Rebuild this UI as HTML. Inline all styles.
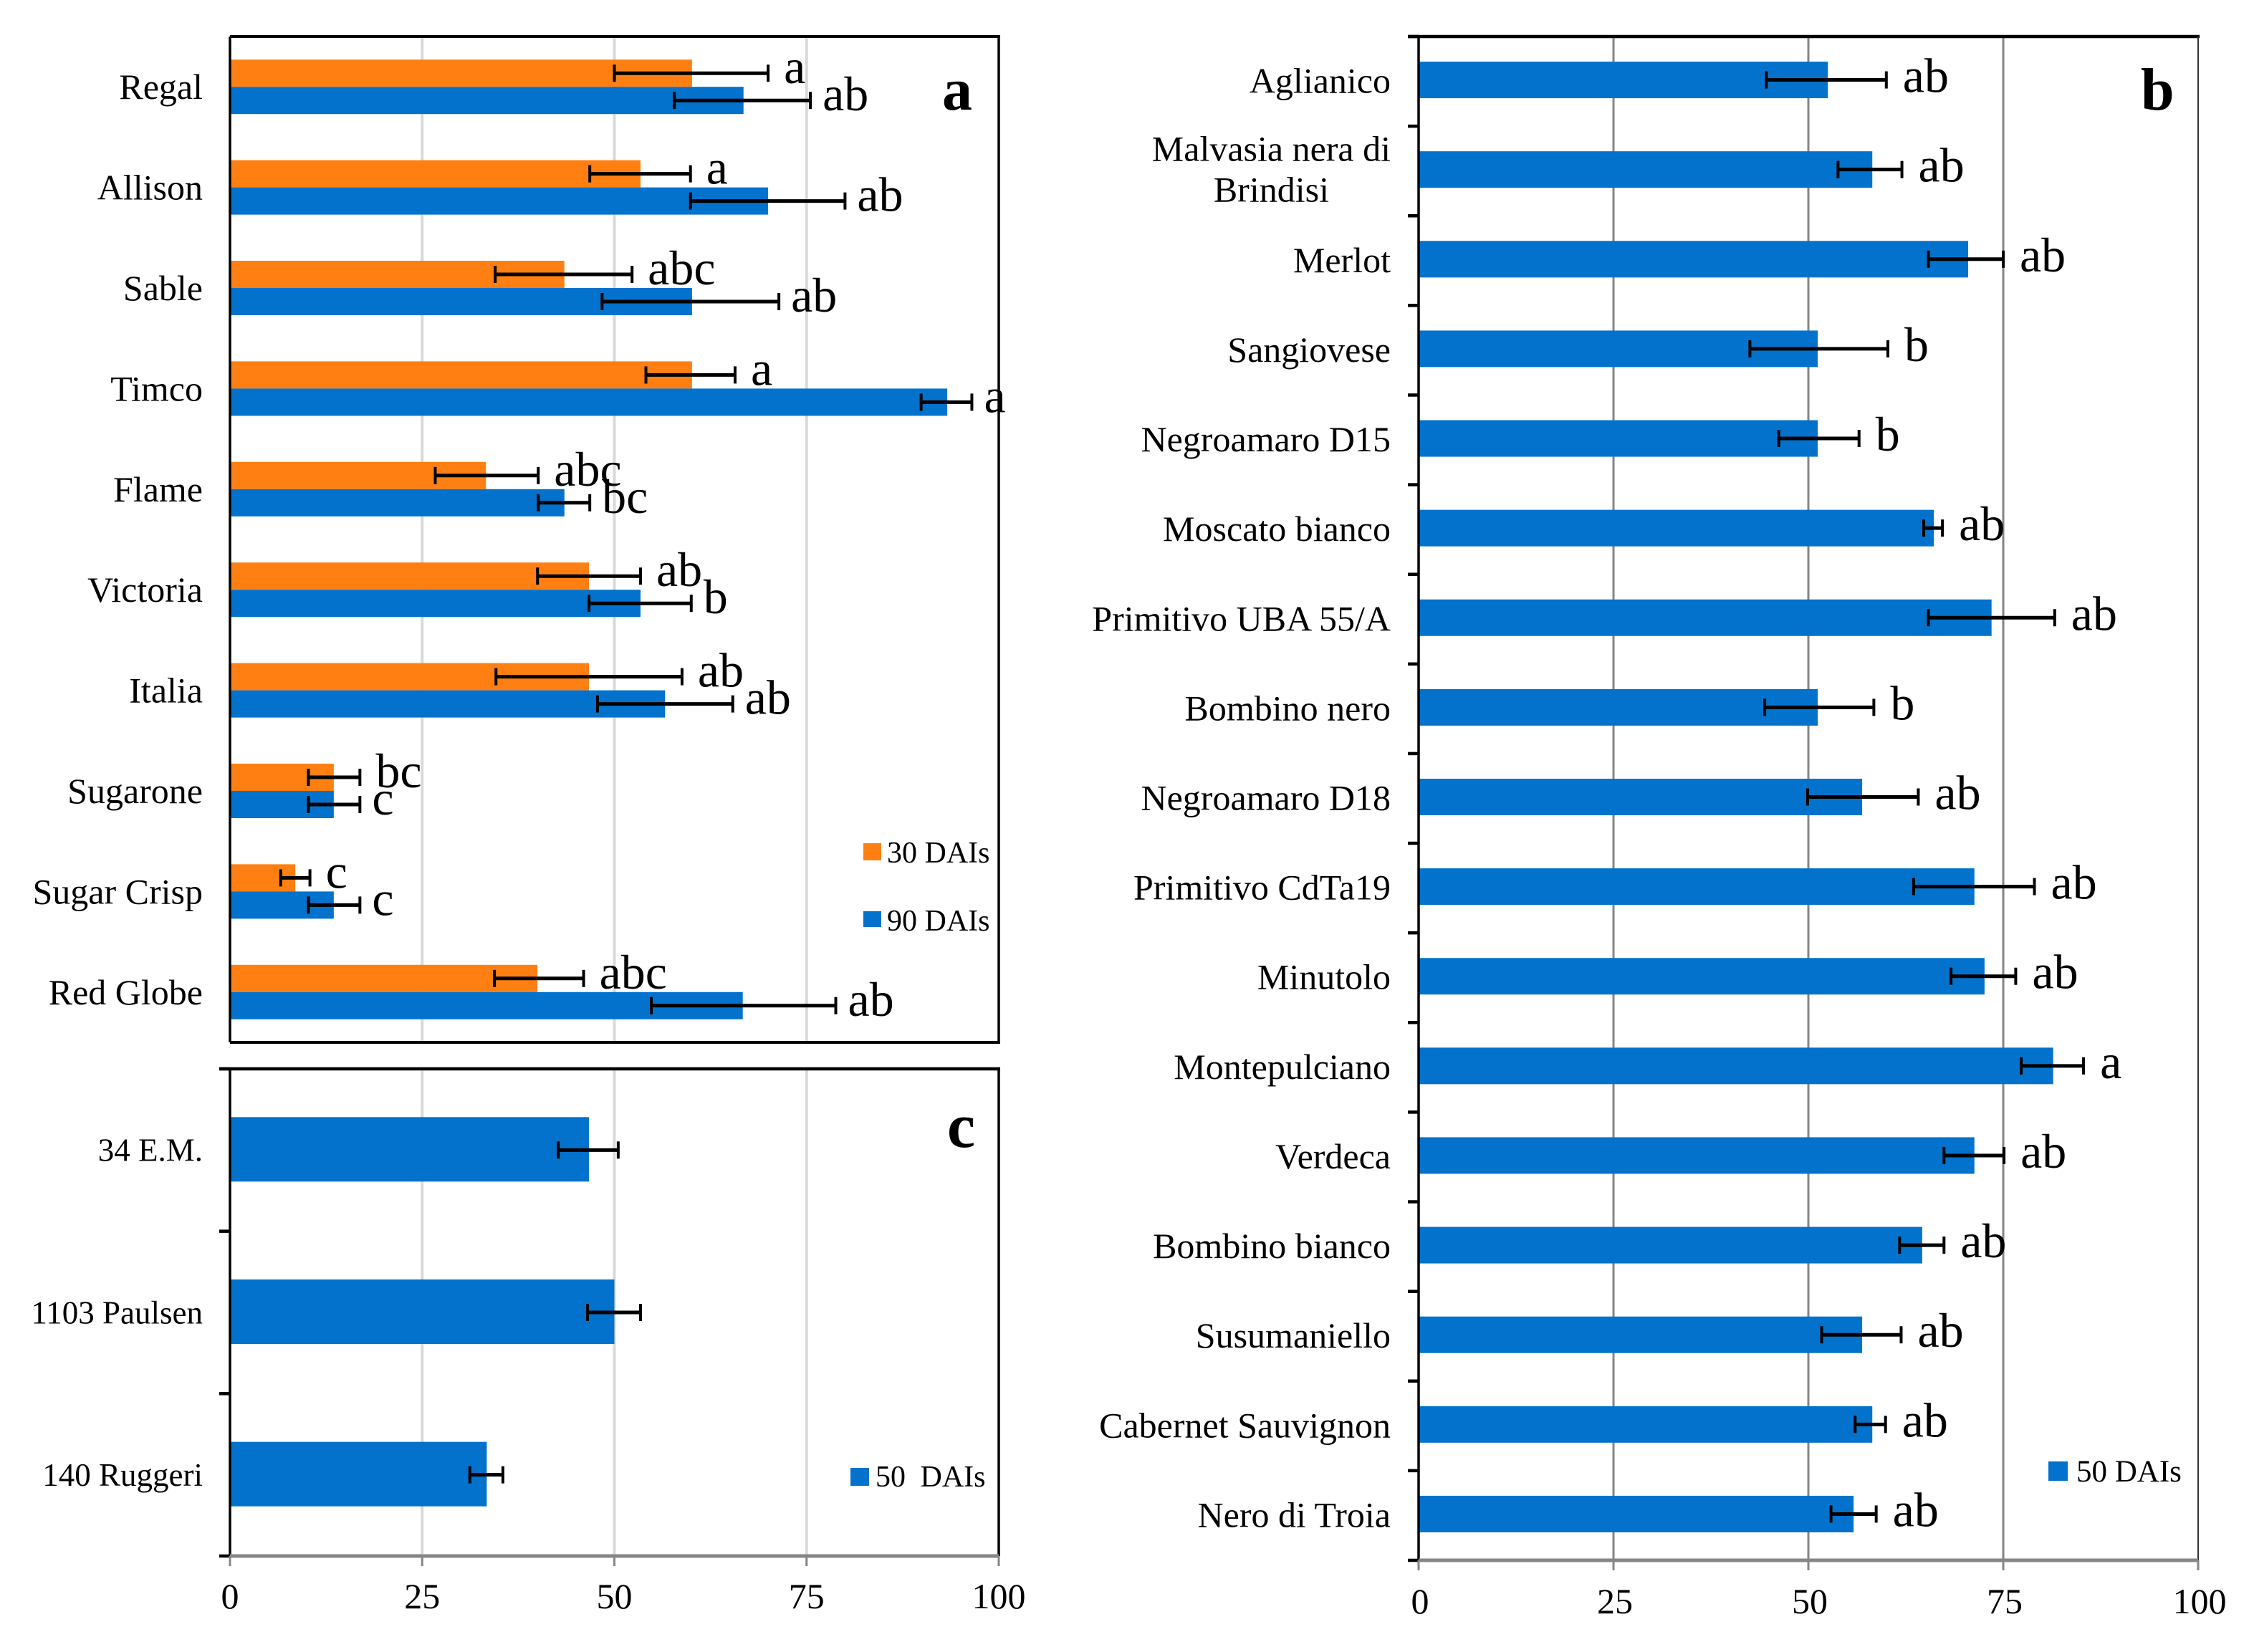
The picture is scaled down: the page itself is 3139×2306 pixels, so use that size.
<!DOCTYPE html>
<html lang="en">
<head>
<meta charset="utf-8">
<title>Grapevine DAIs bar charts</title>
<style>
html,body{margin:0;padding:0;background:#fff;}
svg{display:block;font-family:"Liberation Serif","Times New Roman",serif;}
</style>
</head>
<body>
<svg id="figure" xmlns="http://www.w3.org/2000/svg" width="3139" height="2306" viewBox="0 0 3139 2306">
  <rect width="3139" height="2306" fill="#ffffff"/>
  <g id="panel-a"></g>
  <g id="panel-c"></g>
  <g id="panel-b"></g>
</svg>
<script>
// ---------- shared ----------
const xTickLabels = [0, 25, 50, 75, 100];

// ---------- panel a ----------
const categoriesA = ["Regal","Allison","Sable","Timco","Flame","Victoria","Italia","Sugarone","Sugar Crisp","Red Globe"];
const values30A = [60.1,53.4,43.5,60.1,33.3,46.7,46.7,13.5,8.5,40];
const errLow30A = [50,46.8,34.5,54.1,26.7,40,34.6,10.2,6.6,34.4];
const errHigh30A = [70,59.9,52.3,65.7,40.1,53.4,58.8,16.9,10.4,46];
const letters30A = ["a","a","abc","a","abc","ab","ab","bc","c","abc"];
const values90A = [66.8,70,60.1,93.3,43.5,53.4,56.6,13.5,13.5,66.7];
const errLow90A = [57.8,59.9,48.4,89.9,40.1,46.7,47.8,10.2,10.2,54.8];
const errHigh90A = [75.5,80,71.4,96.5,46.8,60,65.4,16.9,16.9,78.8];
const letters90A = ["ab","ab","ab","a","bc","b","ab","c","c","ab"];

// ---------- panel b ----------
const categoriesB = ["Aglianico","Malvasia nera di|Brindisi","Merlot","Sangiovese","Negroamaro D15","Moscato bianco","Primitivo UBA  55/A","Bombino nero","Negroamaro D18","Primitivo CdTa19","Minutolo","Montepulciano","Verdeca","Bombino bianco","Susumaniello","Cabernet Sauvignon","Nero di Troia"];
const values50B = [52.5,58.2,70.5,51.2,51.2,66.1,73.5,51.2,56.9,71.3,72.6,81.4,71.3,64.6,56.9,58.2,55.8];
const errLow50B = [44.6,53.8,65.4,42.5,46.2,64.8,65.4,44.4,49.9,63.5,68.3,77.3,67.4,61.7,51.7,56,52.9];
const errHigh50B = [60,62,75,60.2,56.5,67.2,81.6,58.4,64.1,79,76.6,85.3,75.1,67.4,61.9,59.9,58.7];
const letters50B = ["ab","ab","ab","b","b","ab","ab","b","ab","ab","ab","a","ab","ab","ab","ab","ab"];

// ---------- panel c ----------
const categoriesC = ["34 E.M.","1103 Paulsen","140 Ruggeri"];
const values50C = [46.7,50,33.4];
const errLow50C = [42.7,46.5,31.2];
const errHigh50C = [50.5,53.4,35.5];

const ORANGE = "#ff7f12";
const BLUE = "#0272cd";
const NS = "http://www.w3.org/2000/svg";

function make(parent, tag, attrs, text) {
  const el = document.createElementNS(NS, tag);
  for (const k in attrs) el.setAttribute(k, attrs[k]);
  if (text !== undefined) el.textContent = text;
  parent.appendChild(el);
  return el;
}
function slug(s) {
  return String(s).toLowerCase().replace(/[^a-z0-9]+/g, '-').replace(/^-|-$/g, '');
}
function linearX(x0, x1) {
  return v => x0 + (v / 100) * (x1 - x0);
}
function bandY(y0, y1, n) {
  const step = (y1 - y0) / n;
  return i => y0 + step * (i + 0.5);
}

function drawGrid(g, xs, top, bottom, color, width) {
  [25, 50, 75].forEach(v => {
    const el = make(g, 'line', {x1: xs(v), x2: xs(v), y1: top, y2: bottom, stroke: color, 'stroke-width': width});
    
    
  });
}
function drawBar(g, xs, yTop, h, value, color, name) {
  const el = make(g, 'rect', {x: xs(0), y: yTop, width: xs(value) - xs(0), height: h, fill: color});
  
  
}
function drawErr(g, xs, y, low, high, name) {
  const line = make(g, 'line', {x1: xs(low), x2: xs(high), y1: y, y2: y, stroke: '#000', 'stroke-width': 5});
  
  
  [low, high].forEach(v => {
    const cap = make(g, 'line', {x1: xs(v), x2: xs(v), y1: y - 12, y2: y + 12, stroke: '#000', 'stroke-width': 4});
    
    
  });
}
function drawLetter(g, x, y, letter, name) {
  const el = make(g, 'text', {x: x, y: y, 'font-size': 68, fill: '#000'}, letter);
  
  
}
function drawCategory(g, right, y, label, size) {
  const parts = label.split('|');
  if (parts.length === 1) {
    const el = make(g, 'text', {x: right, y: y + size * 0.32 + 1, 'font-size': size, 'text-anchor': 'end', 'xml:space': 'preserve', fill: '#000'}, label);
    
    
  } else {
    const first = make(g, 'text', {x: right, y: y - 13, 'font-size': size, 'text-anchor': 'end', fill: '#000'}, parts[0]);
    
    
    const mid = right - first.getComputedTextLength() / 2;
    const second = make(g, 'text', {x: mid, y: y + 44, 'font-size': size, 'text-anchor': 'middle', fill: '#000'}, parts[1]);
    
    
  }
}
function drawXAxis(g, xs, y, labelY, labelShift) {
  const axis = make(g, 'line', {x1: xs(0), x2: xs(100), y1: y, y2: y, stroke: '#868686', 'stroke-width': 5});
  
  
  xTickLabels.forEach(v => {
    const tick = make(g, 'line', {x1: xs(v), x2: xs(v), y1: y, y2: y + 14, stroke: '#868686', 'stroke-width': 3});
    
    
    const label = make(g, 'text', {x: xs(v) + labelShift, y: labelY, 'font-size': 50, 'text-anchor': 'middle', fill: '#000'}, v);
    
    
  });
}
function drawYTicks(g, x, top, bottom, n) {
  for (let i = 0; i <= n; i++) {
    const y = top + (bottom - top) * i / n;
    const tick = make(g, 'line', {x1: x - 15, x2: x, y1: y, y2: y, stroke: '#000', 'stroke-width': 4.5});
    
    
  }
}
function drawLegendEntry(g, sx, sy, sw, sh, color, tx, ty, label, size, wordGap) {
  const swatch = make(g, 'rect', {x: sx, y: sy, width: sw, height: sh, fill: color});
  
  
  const text = make(g, 'text', {x: tx, y: ty, 'font-size': size, 'word-spacing': wordGap, fill: '#000'}, label);
  
  
}
function drawPanelLetter(g, x, y, size, letter) {
  const el = make(g, 'text', {x: x, y: y, 'font-size': size, 'font-weight': 'bold', fill: '#000'}, letter);
  
  
}
function drawEdge(g, x1, y1, x2, y2, color, width, name) {
  const el = make(g, 'line', {x1: x1, y1: y1, x2: x2, y2: y2, stroke: color, 'stroke-width': width});
  
  
}

// ---------- draw panel a ----------
(function () {
  const g = document.getElementById('panel-a');
  const L = 321, R = 1394, T = 51, B = 1455;
  const xs = linearX(L, R);
  const ys = bandY(T, B, categoriesA.length);
  drawGrid(g, xs, T, B, '#d9d9d9', 4);
  categoriesA.forEach((c, i) => {
    const cy = ys(i), n = slug(c);
    drawBar(g, xs, cy - 38, 38, values30A[i], ORANGE, n + '-30-dais');
    drawBar(g, xs, cy, 38, values90A[i], BLUE, n + '-90-dais');
  });
  drawEdge(g, L, T, R + 2, T, '#000', 4, 'frame-top');
  drawEdge(g, L, B, R + 2, B, '#000', 4, 'frame-bottom');
  drawEdge(g, L, T, L, B, '#000', 3.5, 'y-axis-line');
  drawEdge(g, R, T, R, B, '#000', 3.5, 'frame-right');
  categoriesA.forEach((c, i) => {
    const cy = ys(i), n = slug(c);
    drawCategory(g, 283, cy, c, 50);
    drawErr(g, xs, cy - 19, errLow30A[i], errHigh30A[i], n + '-30-dais');
    drawErr(g, xs, cy + 19, errLow90A[i], errHigh90A[i], n + '-90-dais');
    drawLetter(g, xs(errHigh30A[i]) + 22, cy - 19 + 14, letters30A[i], n + '-30-dais');
    drawLetter(g, xs(errHigh90A[i]) + 17, cy + 19 + 14, letters90A[i], n + '-90-dais');
  });
  drawLegendEntry(g, 1205, 1177, 25, 24, ORANGE, 1238, 1204, '30 DAIs', 42, 0);
  drawLegendEntry(g, 1205, 1272, 25, 22, BLUE, 1238, 1299, '90 DAIs', 42, 0);
  drawPanelLetter(g, 1315, 153, 84, 'a');
})();

// ---------- draw panel c ----------
(function () {
  const g = document.getElementById('panel-c');
  const L = 321, R = 1394, T = 1492, B = 2172;
  const xs = linearX(L, R);
  const ys = bandY(T, B, categoriesC.length);
  drawGrid(g, xs, T, B, '#d9d9d9', 4);
  categoriesC.forEach((c, i) => {
    drawBar(g, xs, ys(i) - 46, 90, values50C[i], BLUE, slug(c) + '-50-dais');
  });
  drawEdge(g, L - 15, T, R + 2, T, '#000', 4.5, 'frame-top');
  drawEdge(g, L, T, L, B, '#000', 3.5, 'y-axis-line');
  drawEdge(g, R, T, R, B, '#000', 3.5, 'frame-right');
  drawYTicks(g, L, T, B, categoriesC.length);
  drawXAxis(g, xs, B, 2245, 0);
  categoriesC.forEach((c, i) => {
    const cy = ys(i);
    drawCategory(g, 283, cy, c, 45);
    drawErr(g, xs, cy, errLow50C[i], errHigh50C[i], slug(c) + '-50-dais');
  });
  drawLegendEntry(g, 1187, 2049, 26, 25, BLUE, 1222, 2075, '50 DAIs', 42, 10);
  drawPanelLetter(g, 1322, 1601, 88, 'c');
})();

// ---------- draw panel b ----------
(function () {
  const g = document.getElementById('panel-b');
  const L = 1980, R = 3068, T = 51, B = 2178;
  const xs = linearX(L, R);
  const ys = bandY(T, B, categoriesB.length);
  drawGrid(g, xs, T, B, '#868686', 3);
  categoriesB.forEach((c, i) => {
    drawBar(g, xs, ys(i) - 2 - 25.5, 51, values50B[i], BLUE, slug(c) + '-50-dais');
  });
  drawEdge(g, L - 15, T, R + 2, T, '#000', 4.5, 'frame-top');
  drawEdge(g, L, T, L, B, '#000', 3.5, 'y-axis-line');
  drawEdge(g, R, T, R, B, '#333', 2, 'frame-right');
  drawYTicks(g, L, T, B, categoriesB.length);
  drawXAxis(g, xs, B, 2252, 2);
  categoriesB.forEach((c, i) => {
    const cy = ys(i) - 2, n = slug(c);
    drawCategory(g, 1941, cy + 1, c, 50);
    drawErr(g, xs, cy, errLow50B[i], errHigh50B[i], n + '-50-dais');
    drawLetter(g, xs(errHigh50B[i]) + 23, cy + 17, letters50B[i], n + '-50-dais');
  });
  drawLegendEntry(g, 2859, 2040, 27, 27, BLUE, 2898, 2068, '50 DAIs', 43, 0);
  drawPanelLetter(g, 2988, 153, 84, 'b');
})();
</script>
</body>
</html>
